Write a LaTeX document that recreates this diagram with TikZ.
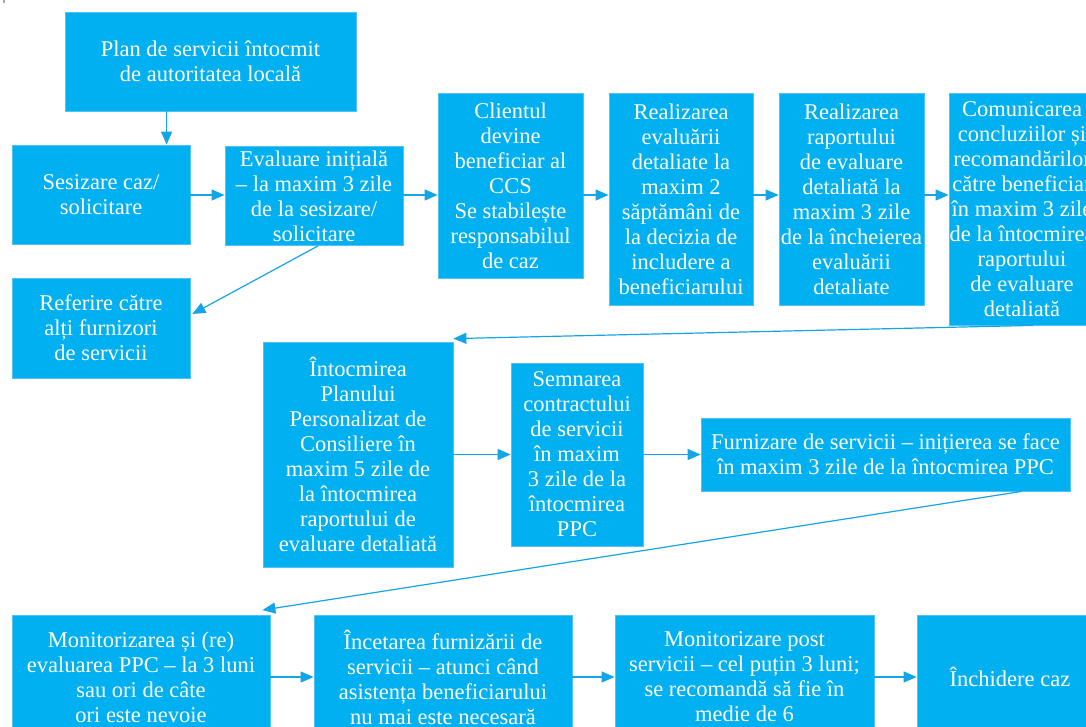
\documentclass[tikz,border=0pt]{standalone}
\usepackage{fontspec}
\setmainfont{Liberation Serif}
\usetikzlibrary{arrows.meta,calc}
\definecolor{boxblue}{RGB}{0,176,240}
\definecolor{boxedge}{RGB}{80,195,242}
\definecolor{linkblue}{RGB}{20,165,230}

\begin{document}
\begin{tikzpicture}[x=1pt,y=-1pt,
  stepbox/.style={fill=boxblue, draw=boxedge, line width=0.8pt, text=white,
    align=center, inner sep=0pt, font=\fontsize{22.5}{25}\selectfont},
  link/.style={draw=linkblue, line width=1.2pt, -{Triangle[length=13pt,width=11pt]}}]

% page frame
\fill[white] (0,0) rectangle (1086,726);
\useasboundingbox (0,0) rectangle (1086,726);
\clip (0,0) rectangle (1086,726);
\fill[gray!70] (3,0) rectangle (5,2.5);

% first stage
\node[stepbox, minimum width=291, minimum height=99] (plan) at (210.5,61.5)
  {Plan de servicii întocmit\\de autoritatea locală};
\node[stepbox, minimum width=178, minimum height=99] (sesizare) at (101,194.5)
  {Sesizare caz/\\solicitare};
\node[stepbox, minimum width=178, minimum height=99] (evaluare) at (314,196)
  {Evaluare inițială\\– la maxim 3 zile\\de la sesizare/\\solicitare};
\node[stepbox, minimum width=178, minimum height=100] (referire) at (101,328)
  {Referire către\\alți furnizori\\de servicii};
\node[stepbox, minimum width=145, minimum height=185] (client) at (510.5,185.5)
  {Clientul\\devine\\beneficiar al\\CCS\\Se stabilește\\responsabilul\\de caz};
\node[stepbox, minimum width=144, minimum height=212] (real1) at (681,199)
  {Realizarea\\evaluării\\detaliate la\\maxim 2\\săptămâni de\\la decizia de\\includere a\\beneficiarului};
\node[stepbox, minimum width=145, minimum height=212] (real2) at (851.5,199)
  {Realizarea\\raportului\\de evaluare\\detaliată la\\maxim 3 zile\\de la încheierea\\evaluării\\detaliate};
\node[stepbox, minimum width=146, minimum height=232] (comm) at (1022,209)
  {Comunicarea\\concluziilor și\\recomandărilor\\către beneficiar\\în maxim 3 zile\\de la întocmirea\\raportului\\de evaluare\\detaliată};

% second stage
\node[stepbox, minimum width=190, minimum height=225] (intoc) at (358,454.5)
  {Întocmirea\\Planului\\Personalizat de\\Consiliere în\\maxim 5 zile de\\la întocmirea\\raportului de\\evaluare detaliată};
\node[stepbox, minimum width=132, minimum height=183] (semn) at (577,454.5)
  {Semnarea\\contractului\\de servicii\\în maxim\\3 zile de la\\întocmirea\\PPC};
\node[stepbox, minimum width=369, minimum height=73] (furn) at (885.5,454.5)
  {Furnizare de servicii – inițierea se face\\în maxim 3 zile de la întocmirea PPC};

% third stage
\node[stepbox, minimum width=258, minimum height=123] (mon) at (141,677)
  {Monitorizarea și (re)\\evaluarea PPC – la 3 luni\\sau ori de câte\\ori este nevoie};
\node[stepbox, minimum width=258, minimum height=123] (incet) at (443,677)
  {Încetarea furnizării de\\servicii – atunci când\\asistența beneficiarului\\nu mai este necesară};
\node[stepbox, minimum width=259, minimum height=123] (post) at (744.5,677)
  {Monitorizare post\\servicii – cel puțin 3 luni;\\se recomandă să fie în\\medie de 6};
\node[stepbox, minimum width=186, minimum height=123] (inch) at (1010,677)
  {Închidere caz};

% connectors
\coordinate (drop) at ($(plan.south west)+(102,0)$);
\coordinate (row1) at (0,195);
\draw[link] (drop) -- (drop |- sesizare.north);
\draw[link] (sesizare.east |- row1) -- (evaluare.west |- row1);
\draw[link] (evaluare.east |- row1) -- (client.west |- row1);
\draw[link] (client.east |- row1) -- (real1.west |- row1);
\draw[link] (real1.east |- row1) -- (real2.west |- row1);
\draw[link] (real2.east |- row1) -- (comm.west |- row1);
\draw[link] ($(evaluare.south)+(4,0)$) -- ($(referire.east)+(2,-14)$);
\draw[link] ($(comm.south)+(11,0)$) -- ($(intoc.north east)+(0,-3)$);
\draw[link] (intoc.east) -- (semn.west);
\draw[link] (semn.east) -- (furn.west);
\draw[link] ($(furn.south)+(136,0)$) -- ($(mon.north east)+(-8,-5)$);
\draw[link] (mon.east) -- (incet.west);
\draw[link] (incet.east) -- (post.west);
\draw[link] (post.east) -- (inch.west);
\end{tikzpicture}
\end{document}
